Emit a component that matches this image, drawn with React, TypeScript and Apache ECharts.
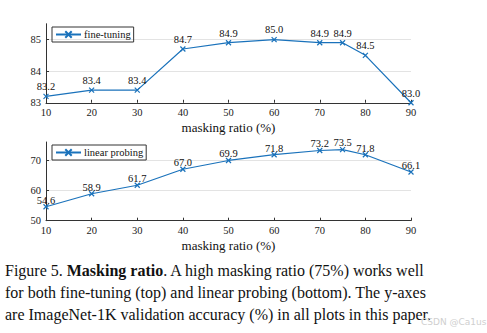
import React, { useEffect, useRef } from "react";
import * as echarts from "echarts";

const ratios = [10, 20, 30, 40, 50, 60, 70, 75, 80, 90];
const fineTuning = [83.2, 83.4, 83.4, 84.7, 84.9, 85.0, 84.9, 84.9, 84.5, 83.0];
const linearProbing = [54.6, 58.9, 61.7, 67.0, 69.9, 71.8, 73.2, 73.5, 71.8, 66.1];
const fineLabels = [83, 84, 85];
const fineGridLines = [84, 85];
const linearLabels = [50, 60, 70];
const linearGridLines = [60, 70];

const SERIF = "Liberation Serif";
const BLUE = "#1a72bb";
const XPATH = "path://M0,0L10,10M10,0L0,10";

function xAxis(gridIndex: number) {
  return {
    type: "value",
    gridIndex,
    min: 10,
    max: 90,
    interval: 10,
    name: "masking ratio (%)",
    nameLocation: "middle",
    nameGap: 18,
    nameTextStyle: { fontFamily: SERIF, fontSize: 13, color: "#111" },
    axisLine: { lineStyle: { color: "#333", width: 1 } },
    axisTick: { inside: true, length: 3, lineStyle: { color: "#333" } },
    axisLabel: { fontFamily: SERIF, fontSize: 10.5, color: "#222", margin: 4 },
    splitLine: { show: false },
  };
}

function yAxis(gridIndex: number, min: number, max: number, labels: number[], lines: number[]) {
  return {
    type: "value",
    gridIndex,
    min,
    max,
    axisLine: { show: true, lineStyle: { color: "#333", width: 1 } },
    axisTick: { show: true, inside: true, length: 3, customValues: lines, lineStyle: { color: "#333" } },
    axisLabel: { customValues: labels, fontFamily: SERIF, fontSize: 10.5, color: "#222", margin: 5 },
    splitLine: { show: true, lineStyle: { color: "#e3e3e3", width: 1 } },
  };
}

function series(name: string, values: number[], idx: number, dist: number) {
  return {
    name,
    type: "line",
    xAxisIndex: idx,
    yAxisIndex: idx,
    data: ratios.map((r, i) => [r, values[i]]),
    symbol: XPATH,
    symbolSize: 5,
    lineStyle: { color: BLUE, width: 1.2 },
    itemStyle: { color: BLUE, borderColor: BLUE, borderWidth: 1.2 },
    label: {
      show: true,
      position: "top",
      distance: dist,
      fontFamily: SERIF,
      fontSize: 10.5,
      color: "#111",
      formatter: (p: any) => p.value[1].toFixed(1),
    },
  };
}

function legend(name: string, top: number) {
  return {
    data: [name],
    left: 52,
    top,
    orient: "horizontal",
    borderColor: "#333",
    borderWidth: 1,
    borderRadius: 0,
    padding: [2, 3, 2, 3],
    itemWidth: 25,
    itemHeight: 8,
    itemGap: 4,
    textStyle: { fontFamily: SERIF, fontSize: 10.5, color: "#111", padding: [0, 0, 0, -2] },
  };
}

export default function App() {
  const ref = useRef<HTMLDivElement>(null);
  useEffect(() => {
    if (!ref.current) return;
    const chart = echarts.init(ref.current, undefined, { renderer: "svg" });
    chart.setOption({
      animation: false,
      backgroundColor: "#fff",
      grid: [
        { left: 46, top: 23.75, width: 365, height: 79 },
        { left: 46, top: 142, width: 365, height: 78.7 },
      ],
      xAxis: [xAxis(0), xAxis(1)],
      yAxis: [
        yAxis(0, 83, 85.5, fineLabels, fineGridLines),
        yAxis(1, 50, 76, linearLabels, linearGridLines),
      ],
      legend: [legend("fine-tuning", 27), legend("linear probing", 145)],
      series: [
        series("fine-tuning", fineTuning, 0, 1),
        series("linear probing", linearProbing, 1, -2),
      ],
      graphic: [
        {
          type: "text",
          left: 5,
          top: 259,
          style: {
            text:
              "Figure 5. {b|Masking ratio}. A high masking ratio (75%) works well\nfor both fine-tuning (top) and linear probing (bottom). The y-axes\nare ImageNet-1K validation accuracy (%) in all plots in this paper.",
            font: `16px '${SERIF}', serif`,
            fill: "#111",
            lineHeight: 22,
            rich: {
              b: { fontFamily: SERIF, fontSize: 16, fontWeight: "bold", fill: "#111", lineHeight: 22 },
            },
          },
        },
        {
          type: "text",
          left: 421,
          top: 317,
          style: { text: "CSDN @Ca1us", font: "9px 'DejaVu Sans', sans-serif", fill: "#cfcfcf" },
        },
      ],
    });
    return () => chart.dispose();
  }, []);
  return (
    <div
      ref={ref}
      style={{ position: "absolute", left: 0, top: 0, width: 487, height: 333 }}
    />
  );
}
